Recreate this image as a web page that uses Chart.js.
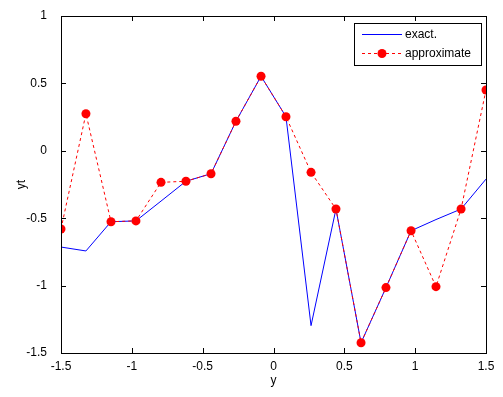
<!DOCTYPE html>
<html>
<head>
<meta charset="utf-8">
<script src="https://cdn.jsdelivr.net/npm/chart.js@4.4.1/dist/chart.umd.min.js"></script>
<style>
  html, body { margin: 0; padding: 0; background: #fff; }
  canvas { display: block; }
</style>
</head>
<body>
<canvas id="chart" width="503" height="397"></canvas>
<script>
// valores
const xs = [-1.5, -1.324, -1.147, -0.971, -0.794, -0.618, -0.441, -0.265, -0.088,
            0.088, 0.265, 0.441, 0.618, 0.794, 0.971, 1.147, 1.324, 1.5];
const exact = [-0.714, -0.743, -0.526, -0.52, -0.373, -0.226, -0.17, 0.219, 0.553,
               0.253, -1.297, -0.432, -1.424, -1.015, -0.593, -0.51, -0.432, -0.21];
const approx = [-0.58, 0.275, -0.526, -0.52, -0.234, -0.226, -0.17, 0.219, 0.553,
                0.253, -0.16, -0.432, -1.424, -1.015, -0.593, -1.008, -0.432, 0.451];
const xTicks = [-1.5, -1, -0.5, 0, 0.5, 1, 1.5];
const yTicks = [-1.5, -1, -0.5, 0, 0.5, 1];

const FONT = 'Arial, "Liberation Sans", sans-serif';

// ticks para dentro nos quatro lados + caixa + legenda
const boxPlugin = {
  id: 'box',
  afterDraw(chart) {
    const { ctx, chartArea: a, scales } = chart;
    ctx.save();
    ctx.strokeStyle = '#000';
    ctx.lineWidth = 1;
    ctx.strokeRect(a.left + 0.5, a.top + 0.5, a.right - a.left, a.bottom - a.top);
    ctx.beginPath();
    xTicks.forEach(v => {
      const px = Math.round(scales.x.getPixelForValue(v)) + 0.5;
      ctx.moveTo(px, a.bottom); ctx.lineTo(px, a.bottom - 5);
      ctx.moveTo(px, a.top); ctx.lineTo(px, a.top + 5);
    });
    yTicks.forEach(v => {
      const py = Math.round(scales.y.getPixelForValue(v)) + 0.5;
      ctx.moveTo(a.left, py); ctx.lineTo(a.left + 5, py);
      ctx.moveTo(a.right, py); ctx.lineTo(a.right - 5, py);
    });
    ctx.stroke();

    // legenda
    const lx = 354.5, ly = 23.5, lw = 127, lh = 42;
    ctx.fillStyle = '#fff';
    ctx.fillRect(lx, ly, lw, lh);
    ctx.strokeRect(lx, ly, lw, lh);
    ctx.font = '12px ' + FONT;
    ctx.textBaseline = 'middle';
    const rows = [chart.data.datasets[1], chart.data.datasets[0]];
    rows.forEach((ds, i) => {
      const y = 34.5 + i * 19;
      ctx.strokeStyle = ds.borderColor;
      ctx.setLineDash(ds.borderDash || []);
      ctx.beginPath();
      ctx.moveTo(362, y); ctx.lineTo(402, y);
      ctx.stroke();
      ctx.setLineDash([]);
      if (ds.pointRadius) {
        ctx.fillStyle = ds.pointBackgroundColor;
        ctx.beginPath();
        ctx.arc(382, y, ds.pointRadius, 0, Math.PI * 2);
        ctx.fill();
      }
      ctx.fillStyle = '#000';
      ctx.fillText(ds.label, 405, y);
    });
    ctx.restore();
  }
};

const tickFmt = v => String(v);

new Chart(document.getElementById('chart'), {
  type: 'scatter',
  data: {
    datasets: [{
      label: 'approximate',
      data: xs.map((x, i) => ({ x: x, y: approx[i] })),
      showLine: true,
      borderColor: '#ff0000',
      borderWidth: 1,
      borderDash: [3, 3],
      pointRadius: 4.5,
      pointBackgroundColor: '#ff0000',
      pointBorderWidth: 0,
      order: 0
    }, {
      label: 'exact.',
      data: xs.map((x, i) => ({ x: x, y: exact[i] })),
      showLine: true,
      borderColor: '#0000ff',
      borderWidth: 1,
      pointRadius: 0,
      order: 1
    }]
  },
  options: {
    responsive: false,
    animation: false,
    devicePixelRatio: 1,
    layout: { padding: { left: 0, right: 17, top: 16, bottom: 0 } },
    plugins: { legend: { display: false }, tooltip: { enabled: false } },
    scales: {
      x: {
        type: 'linear', min: -1.5, max: 1.5,
        afterBuildTicks: s => { s.ticks = xTicks.map(v => ({ value: v })); },
        afterFit: s => { s.height = 44; },
        grid: { display: false },
        border: { display: false },
        ticks: { color: '#000', font: { family: FONT, size: 12 }, padding: -2, maxRotation: 0, callback: tickFmt },
        title: { display: true, text: 'y', color: '#000', font: { family: FONT, size: 12 }, padding: { top: 0, bottom: 9 } }
      },
      y: {
        type: 'linear', min: -1.5, max: 1,
        afterBuildTicks: s => { s.ticks = yTicks.map(v => ({ value: v })); },
        afterFit: s => { s.width = 61; },
        grid: { display: false },
        border: { display: false },
        ticks: { color: '#000', font: { family: FONT, size: 12 }, padding: 6, callback: tickFmt },
        title: { display: true, text: 'yt', color: '#000', font: { family: FONT, size: 12 }, padding: { top: 14, bottom: 0 } }
      }
    }
  },
  plugins: [boxPlugin]
});
</script>
</body>
</html>
